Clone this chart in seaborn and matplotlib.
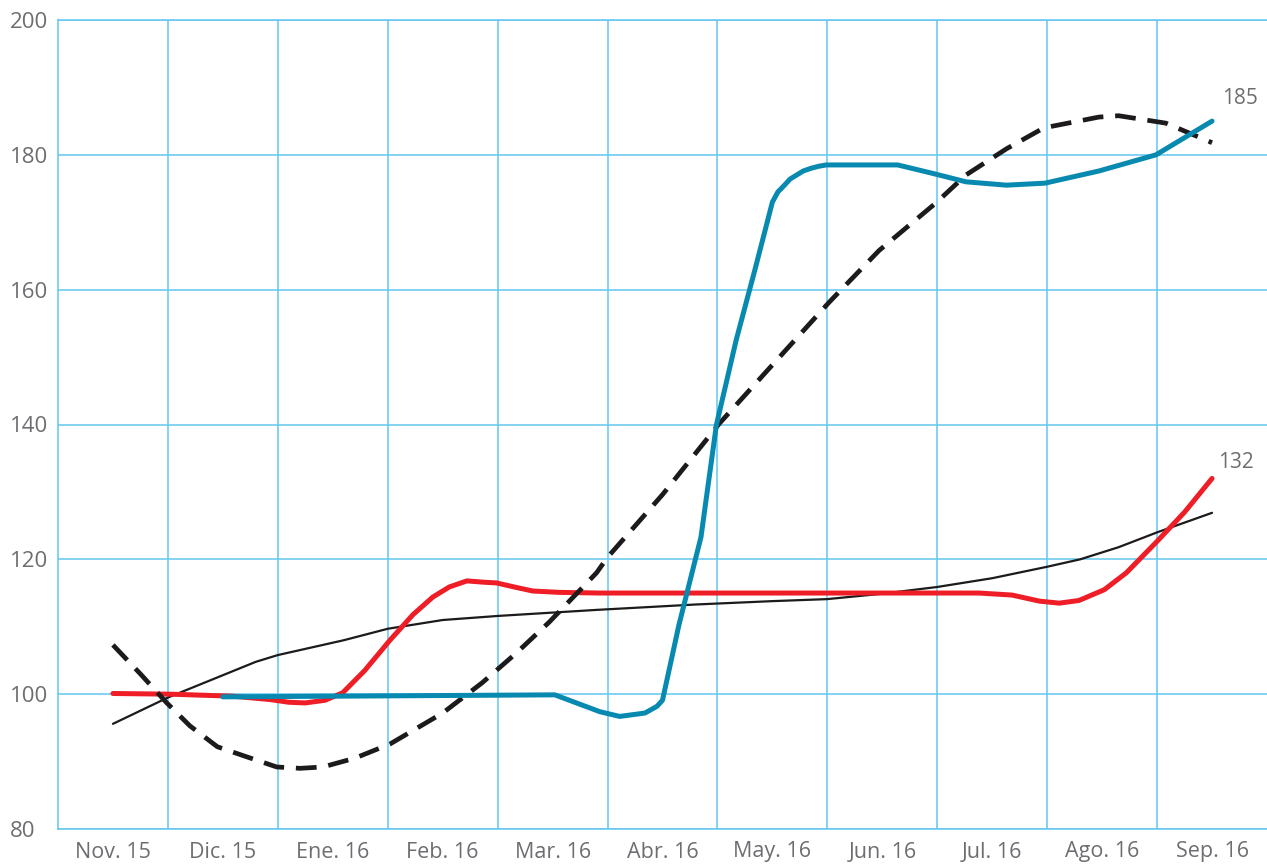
import matplotlib
matplotlib.use("Agg")
import matplotlib.pyplot as plt
import seaborn as sns
import pandas as pd
import numpy as np

# Month labels (one category per month)
meses = ["Nov. 15", "Dic. 15", "Ene. 16", "Feb. 16", "Mar. 16", "Abr. 16",
         "May. 16", "Jun. 16", "Jul. 16", "Ago. 16", "Sep. 16"]
y_ticks = [80, 100, 120, 140, 160, 180, 200]

# Thin black series: position in months (0 = Nov. 15) and index value
negro_t = [0, 0.5, 1.3, 1.5, 2.1, 2.5, 3, 3.5, 4.4, 5.3, 6, 6.5, 7, 7.5, 8,
           8.5, 8.8, 9.15, 9.5, 10]
negro_v = [95.6, 99.5, 104.8, 105.8, 108, 109.7, 111, 111.6, 112.5, 113.3,
           113.8, 114.1, 114.9, 115.9, 117.2, 118.9, 120, 121.8, 124, 126.9]

# Red series
rojo_t = [0, 0.52, 1.09, 1.43, 1.6, 1.75, 1.93, 2.09, 2.29, 2.52, 2.73, 2.91,
          3.06, 3.22, 3.38, 3.49, 3.65, 3.82, 4.06, 4.43, 7.49, 7.88, 8.18,
          8.43, 8.61, 8.79, 9.02, 9.22, 9.49, 9.75, 10]
rojo_v = [100.1, 100, 99.7, 99.2, 98.8, 98.7, 99.1, 100.2, 103.5, 108, 111.8,
          114.4, 115.9, 116.8, 116.6, 116.5, 115.9, 115.3, 115.1, 115.0, 115.0,
          115.0, 114.7, 113.8, 113.5, 113.9, 115.5, 118, 122.5, 127, 132]

# Teal series
azul_t = [1.0, 4.02, 4.43, 4.61, 4.84, 4.95, 5.0, 5.15, 5.35, 5.49, 5.67,
          5.84, 6.0, 6.05, 6.11, 6.16, 6.22, 6.28, 6.35, 6.42, 6.49, 7.14,
          7.47, 7.76, 8.13, 8.48, 8.97, 9.49, 10]
azul_v = [99.6, 99.9, 97.4, 96.7, 97.2, 98.2, 99.1, 110.3, 123.3, 139.9,
          152.5, 162.9, 173, 174.5, 175.5, 176.4, 177, 177.6, 178, 178.3,
          178.5, 178.5, 177.2, 176, 175.5, 175.8, 177.6, 180, 185]

# Dashed trend series
trend_t = [0, 0.25, 0.49, 0.7, 0.95, 1.2, 1.49, 1.7, 1.91, 2.2, 2.52, 3.0,
           3.36, 3.67, 3.97, 4.4, 4.5, 5.0, 5.52, 6.52, 6.97, 7.49, 7.76,
           8.13, 8.47, 8.97, 9.15, 9.58, 10]
trend_v = [107.3, 103, 98.7, 95.3, 92.2, 90.8, 89.2, 89, 89.2, 90.5, 92.6,
           97.2, 101.7, 106.1, 110.7, 118, 120.3, 129.6, 140.2, 158.2, 165.8,
           172.9, 177, 180.9, 184, 185.6, 185.8, 184.7, 181.8]

GRID = "#62c6f0"
LABEL = "#6d6e71"
TEAL = "#0789b0"
RED = "#ee1d26"
BLACK = "#1c1a1b"

sns.set_theme(style="white")
plt.rcParams["font.family"] = ["Open Sans", "DejaVu Sans"]

fig = plt.figure(figsize=(12.67, 8.65), dpi=100)
ax = fig.add_axes([58 / 1267, 36 / 865, 1209 / 1267, 809 / 865])

neg = pd.DataFrame({"t": negro_t, "v": negro_v})
roj = pd.DataFrame({"t": rojo_t, "v": rojo_v})
azu = pd.DataFrame({"t": azul_t, "v": azul_v})
ten = pd.DataFrame({"t": trend_t, "v": trend_v})

sns.lineplot(data=neg, x="t", y="v", ax=ax, color=BLACK, lw=1.6, sort=False,
             estimator=None, solid_joinstyle="round", zorder=3)
sns.lineplot(data=roj, x="t", y="v", ax=ax, color=RED, lw=3.6, sort=False,
             estimator=None, solid_joinstyle="round", zorder=4)
sns.lineplot(data=ten, x="t", y="v", ax=ax, color=BLACK, lw=3.4, sort=False,
             estimator=None, linestyle=(0, (4.4, 2.5)), zorder=5)
sns.lineplot(data=azu, x="t", y="v", ax=ax, color=TEAL, lw=3.6, sort=False,
             estimator=None, solid_joinstyle="round", zorder=6)

ax.set_xlim(-0.5, 10.5)
ax.set_ylim(80, 200)
ax.set_xticks(range(len(meses)))
ax.set_xticklabels(meses)
ax.set_xticks(np.arange(0.5, 10.0, 1.0), minor=True)
ax.set_yticks(y_ticks)
ax.set_xlabel("")
ax.set_ylabel("")

ax.grid(False)
ax.grid(which="minor", axis="x", color=GRID, lw=1.1, zorder=1)
ax.grid(which="major", axis="y", color=GRID, lw=1.1, zorder=1)

for side in ("left", "bottom", "top"):
    ax.spines[side].set_color(GRID)
    ax.spines[side].set_linewidth(1.1)
ax.spines["right"].set_visible(False)

ax.tick_params(axis="both", which="both", length=0, labelcolor=LABEL)
ax.tick_params(axis="x", pad=9, labelsize=15.5)
ax.tick_params(axis="y", pad=34.5, labelsize=16)
for lab in ax.get_yticklabels():
    lab.set_horizontalalignment("left")

# End-of-line value labels
ax.annotate(f"{azul_v[-1]:.0f}", xy=(azul_t[-1], azul_v[-1]),
            xytext=(7, 16), textcoords="offset points", color=LABEL,
            fontsize=15, va="center", ha="left")
ax.annotate(f"{rojo_v[-1]:.0f}", xy=(rojo_t[-1], rojo_v[-1]),
            xytext=(4, 11.5), textcoords="offset points", color=LABEL,
            fontsize=15, va="center", ha="left")

fig.savefig("out.png", dpi=100)
